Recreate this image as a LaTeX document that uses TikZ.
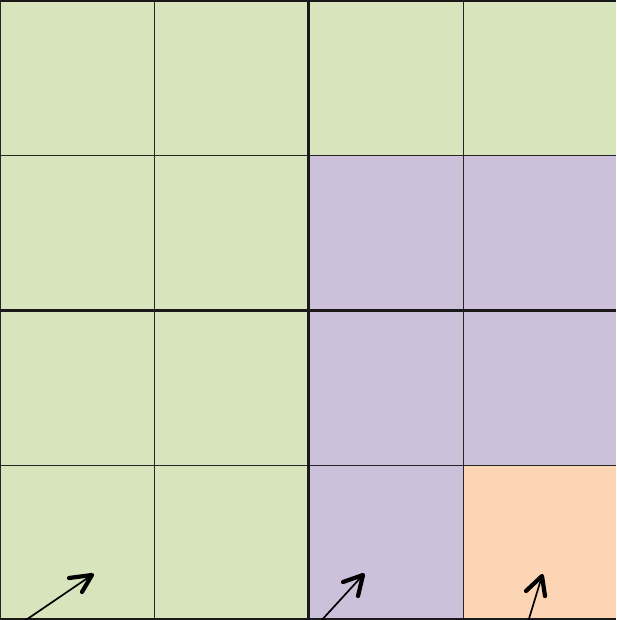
\documentclass[tikz,border=0pt]{standalone}
\definecolor{cgreen}{HTML}{D8E4BC}
\definecolor{cpurple}{HTML}{CCC0DA}
\definecolor{corange}{HTML}{FCD5B4}
\tikzset{
  thin grid/.style={draw=black!85, line width=1pt},
  thick grid/.style={draw=black!90, line width=3pt},
  shaft/.style={line width=1.7pt},
  barb/.style={line width=4.2pt, line cap=round, line join=round},
}
\begin{document}
\begin{tikzpicture}[x=1pt,y=-1pt]
\useasboundingbox (0,0) rectangle (616,620);
% fills
\fill[cgreen] (0,0) rectangle (616,620);
\fill[cpurple] (308,156) rectangle (616,465);
\fill[cpurple] (308,465) rectangle (463,620);
\fill[corange] (463,465) rectangle (616,620);
% thin grid
\foreach \x in {0.5,154,463} \draw[thin grid] (\x,0) -- (\x,620);
\foreach \y in {156,465} \draw[thin grid] (0,\y) -- (616,\y);
% thick grid
\draw[thick grid] (308,0) -- (308,620);
\draw[thick grid] (0,310) -- (616,310);
\draw[thick grid, line width=4.5pt] (0,0) -- (616,0);
\draw[thick grid, line width=4.5pt] (0,620) -- (616,620);
% arrows
\coordinate (a1s) at (23,622); \coordinate (a1e) at (92,575);
\coordinate (a1b) at (69,578); \coordinate (a1c) at (82,592);
\coordinate (a2s) at (320,622); \coordinate (a2e) at (363,575);
\coordinate (a2b) at (343,582); \coordinate (a2c) at (358,596);
\coordinate (a3s) at (528,622); \coordinate (a3e) at (542,576);
\coordinate (a3b) at (526,591); \coordinate (a3c) at (545,596);
\draw[shaft] (a1s) -- (a1e);
\draw[barb] (a1b) -- (a1e) -- (a1c);
\draw[shaft] (a2s) -- (a2e);
\draw[barb] (a2b) -- (a2e) -- (a2c);
\draw[shaft] (a3s) -- (a3e);
\draw[barb] (a3b) -- (a3e) -- (a3c);
\end{tikzpicture}
\end{document}
